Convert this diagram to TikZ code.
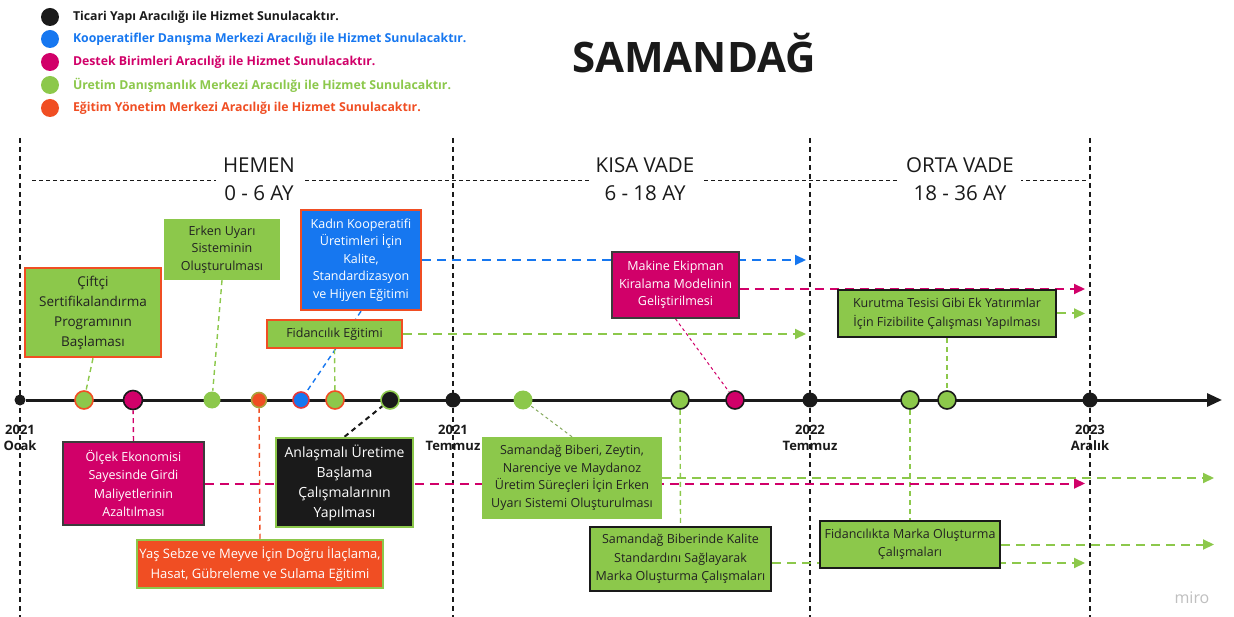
\documentclass[tikz,border=0pt]{standalone}
\usepackage{fontspec}
\setmainfont{Open Sans}
\usetikzlibrary{positioning,arrows.meta,backgrounds}
\definecolor{grn}{HTML}{8CC84B}
\definecolor{mag}{HTML}{D10069}
\definecolor{blu}{HTML}{1677F0}
\definecolor{org}{HTML}{F04E23}
\definecolor{blk}{HTML}{1A1A1A}
\definecolor{txt}{HTML}{222222}

\begin{document}
\begin{tikzpicture}[x=1pt,y=-1pt,
    box/.style={align=center,inner sep=0pt,text=txt,font=\fontsize{12.5}{17.5}\selectfont},
    gbox/.style={box,fill=grn},
    gobox/.style={box,fill=grn,draw=org,line width=2.5pt},
    gkbox/.style={box,fill=grn,draw=blk,line width=2pt},
    mbox/.style={box,fill=mag,draw=blk!85,line width=1.6pt,text=white},
    bbox/.style={box,fill=blu,draw=org,line width=2.5pt,text=white},
    kbox/.style={box,fill=blk,draw=grn,line width=2.5pt,text=white},
    obox/.style={box,fill=org,draw=grn,line width=2.5pt,text=white},
    dot/.style={circle,inner sep=0pt,minimum size=#1,line width=1.6pt},
    ar/.style={draw=#1,line width=2pt,dash pattern=on 9pt off 6pt,-{Triangle[length=11pt,width=10pt]}},
    ln/.style={draw=#1,line width=1.4pt,dash pattern=on 5pt off 4pt},
    fine/.style={draw=#1,line width=1pt,dash pattern=on 3pt off 3pt},
    sec/.style={draw=blk,line width=1.2pt,dash pattern=on 5pt off 4pt},
    head/.style={align=center,fill=white,inner xsep=7pt,inner ysep=0pt,text=blk,font=\fontsize{20.5}{28}\selectfont},
    yr/.style={align=center,inner sep=0pt,text=blk,font=\bfseries\fontsize{13}{16}\selectfont},
    leg/.style={anchor=west,inner sep=0pt,font=\bfseries\fontsize{12.3}{14}\selectfont}]
  \useasboundingbox (0,0) rectangle (1234,617);

  % legend and title
  \node[dot=18pt,fill=blk] (l1) at (50,17) {};
  \node[dot=18pt,fill=blu] (l2) at (50,39) {};
  \node[dot=18pt,fill=mag] (l3) at (50,62) {};
  \node[dot=18pt,fill=grn] (l4) at (50,85) {};
  \node[dot=18pt,fill=org] (l5) at (50,108) {};
  \node[leg,text=blk,right=13pt of l1] {Ticari Yapı Aracılığı ile Hizmet Sunulacaktır.};
  \node[leg,text=blu,right=13pt of l2] {Kooperatifler Danışma Merkezi Aracılığı ile Hizmet Sunulacaktır.};
  \node[leg,text=mag,right=13pt of l3] {Destek Birimleri Aracılığı ile Hizmet Sunulacaktır.};
  \node[leg,text=grn,right=13pt of l4] {Üretim Danışmanlık Merkezi Aracılığı ile Hizmet Sunulacaktır.};
  \node[leg,text=org,right=13pt of l5] {Eğitim Yönetim Merkezi Aracılığı ile Hizmet Sunulacaktır.};
  \node[text=blk,font=\bfseries\fontsize{42}{48}\selectfont] (title) at (694,53) {SAMANDAĞ};

  % period headers
  \node[head] (hemen) at (259,179) {HEMEN\\0 - 6 AY};
  \node[head] (kisa) at (645,179) {KISA VADE\\6 - 18 AY};
  \node[head] (orta) at (960,179) {ORTA VADE\\18 - 36 AY};

  % timeline points
  \coordinate (tend) at (1222,400);
  \coordinate (e2) at (806,400); \coordinate (e3) at (1085,400); \coordinate (e4) at (1214,400);
  \node[dot=11pt,fill=blk] (t0) at (20,400) {};
  \node[dot=15pt,fill=blk] (t1) at (453,400) {};
  \node[dot=15pt,fill=blk] (t2) at (810,400) {};
  \node[dot=15pt,fill=blk] (t3) at (1090,400) {};
  \node[dot=18pt,fill=grn,draw=org] (d1) at (84,400) {};
  \node[dot=19pt,fill=mag,draw=blk] (d2) at (133,400) {};
  \node[dot=17pt,fill=grn] (d3) at (212,400) {};
  \node[dot=15pt,fill=org,draw=grn!70!org] (d4) at (259,400) {};
  \node[dot=16pt,fill=blu,draw=org!70!mag] (d5) at (301,400) {};
  \node[dot=18pt,fill=grn,draw=org] (d6) at (335,400) {};
  \node[dot=18pt,fill=blk,draw=grn] (d7) at (390,400) {};
  \node[dot=19pt,fill=grn] (d8) at (523,400) {};
  \node[dot=18pt,fill=grn,draw=blk] (d9) at (680,400) {};
  \node[dot=18pt,fill=mag,draw=blk] (d10) at (735,400) {};
  \node[dot=18pt,fill=grn,draw=blk] (d11) at (910,400) {};
  \node[dot=18pt,fill=grn,draw=blk] (d12) at (947,400) {};
  \node[yr] (y0) at (20,438) {2021\\Ocak};
  \node[yr] (y1) at (453,438) {2021\\Temmuz};
  \node[yr] (y2) at (810,438) {2022\\Temmuz};
  \node[yr] (y3) at (1090,438) {2023\\Aralık};

  % activity boxes
  \node[gobox,minimum width=136pt,minimum height=89pt,font=\fontsize{13.5}{20}\selectfont] (cift) at (93,312.5) {Çiftçi\\Sertifikalandırma\\Programının\\Başlaması};
  \node[gbox,minimum width=116pt,minimum height=61pt] (erken) at (222,249.5) {Erken Uyarı\\Sisteminin\\Oluşturulması};
  \node[bbox,minimum width=120pt,minimum height=100pt] (kadin) at (361,260) {Kadın Kooperatifi\\Üretimleri İçin\\Kalite,\\Standardizasyon\\ve Hijyen Eğitimi};
  \node[gobox,minimum width=135pt,minimum height=28pt] (fidan) at (334.5,334) {Fidancılık Eğitimi};
  \node[mbox,minimum width=127pt,minimum height=66pt] (makine) at (675.5,285) {Makine Ekipman\\Kiralama Modelinin\\Geliştirilmesi};
  \node[gkbox,minimum width=218pt,minimum height=47pt,font=\fontsize{12.5}{19}\selectfont] (kurutma) at (947,313.5) {Kurutma Tesisi Gibi Ek Yatırımlar\\İçin Fizibilite Çalışması Yapılması};
  \node[mbox,minimum width=141pt,minimum height=83pt,font=\fontsize{12.5}{18.5}\selectfont] (olcek) at (133.5,483.5) {Ölçek Ekonomisi\\Sayesinde Girdi\\Maliyetlerinin\\Azaltılması};
  \node[kbox,minimum width=137pt,minimum height=89pt,font=\fontsize{14}{20}\selectfont] (anlasma) at (344.5,482.5) {Anlaşmalı Üretime\\Başlama\\Çalışmalarının\\Yapılması};
  \node[obox,minimum width=246pt,minimum height=48pt,font=\fontsize{13}{20}\selectfont] (yas) at (260,564) {Yaş Sebze ve Meyve İçin Doğru İlaçlama,\\Hasat, Gübreleme ve Sulama Eğitimi};
  \node[gbox,minimum width=180pt,minimum height=82pt] (biberi) at (572,478) {Samandağ Biberi, Zeytin,\\Narenciye ve Maydanoz\\Üretim Süreçleri İçin Erken\\Uyarı Sistemi Oluşturulması};
  \node[gkbox,minimum width=181pt,minimum height=64pt,font=\fontsize{12.5}{18.5}\selectfont] (marka) at (680.5,559) {Samandağ Biberinde Kalite\\Standardını Sağlayarak\\Marka Oluşturma Çalışmaları};
  \node[gkbox,minimum width=180pt,minimum height=47pt,font=\fontsize{12.5}{18}\selectfont] (fmarka) at (910,544.5) {Fidancılıkta Marka Oluşturma\\Çalışmaları};
  \node[text=black!25,font=\fontsize{16}{18}\selectfont] (miro) at (1192,598) {miro};

  \begin{pgfonlayer}{background}
    \fill[white] (0,0) rectangle (1234,617);
    \foreach \x in {20,453,810,1090} \draw[sec] (\x,138) -- (\x,617);
    \draw[draw=blk,line width=1pt,dash pattern=on 4pt off 3pt] (32,181) -- (1087,181);
    % links to the timeline
    \draw[ln=grn] (cift.south) -- (d1);
    \draw[ln=grn] (erken.south) -- (d3);
    \draw[ln=blu] (kadin.south) -- (d5);
    \draw[ln=grn] (fidan.south) -- (d6);
    \draw[fine=mag] (makine.south) -- (d10);
    \draw[ln=grn] (kurutma.south) -- (d12);
    \draw[ln=mag] (olcek.north) -- (d2);
    \draw[ln=blk,line width=2pt] (anlasma.north) -- (d7);
    \draw[ln=org] (yas.north) -- (d4);
    \draw[fine=grn!60!gray] (biberi.north) -- (d8);
    \draw[ln=grn] (d9) -- (marka.north);
    \draw[ln=grn] (d11) -- (fmarka.north);
    % durations
    \coordinate (mk) at ([yshift=-4pt]makine.east);
    \coordinate (mr) at ([yshift=-4pt]marka.east);
    \draw[ar=blu] (kadin.east) -- (kadin.east -| e2);
    \draw[ar=grn] (fidan.east) -- (fidan.east -| e2);
    \draw[ar=mag] (mk) -- (mk -| e3);
    \draw[ar=grn] (kurutma.east) -- (kurutma.east -| e3);
    \draw[ar=mag] (olcek.east) -- (olcek.east -| e3);
    \draw[ar=grn] (biberi.east) -- (biberi.east -| e4);
    \draw[ar=grn] (mr) -- (mr -| e3);
    \draw[ar=grn] (fmarka.east) -- (fmarka.east -| e4);
    \draw[draw=blk,line width=3pt,-{Triangle[length=15pt,width=13pt]}] (t0) -- (tend);
  \end{pgfonlayer}
\end{tikzpicture}
\end{document}
